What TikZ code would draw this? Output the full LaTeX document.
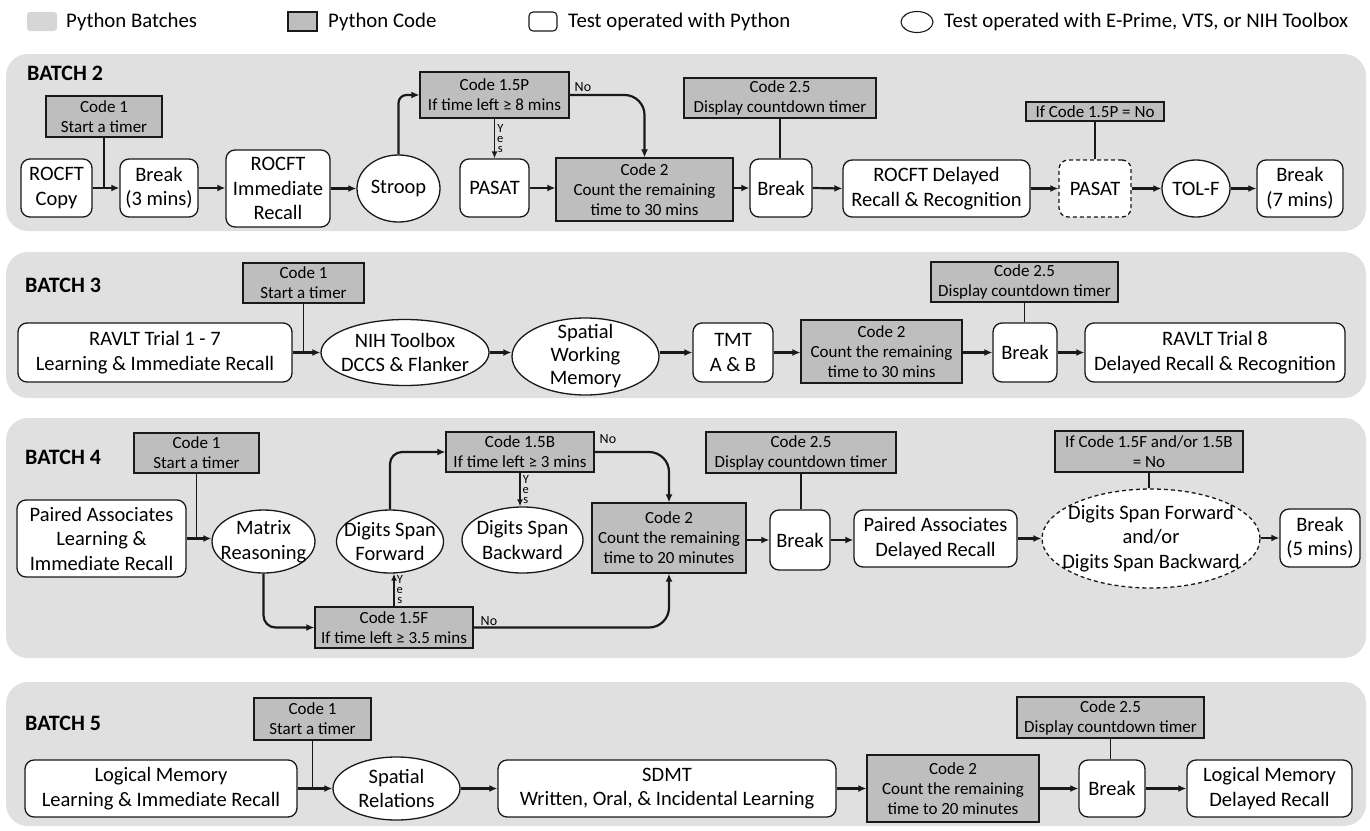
\documentclass[tikz,border=0pt]{standalone}
\usepackage{fontspec}
\setmainfont{Carlito}
\usetikzlibrary{arrows.meta,shapes.geometric}
\definecolor{panelgray}{RGB}{224,224,224}
\definecolor{leggray}{RGB}{214,214,214}
\definecolor{codegray}{RGB}{190,190,190}
\definecolor{ink}{RGB}{25,25,25}
\begin{document}
\begin{tikzpicture}[x=1pt,y=-1pt,
  panel/.style={fill=panelgray, rounded corners=22pt},
  test/.style={draw=ink, fill=white, rounded corners=9pt, line width=1.3pt, align=center, inner sep=1pt, font=\fontsize{20.5}{24.5}\selectfont},
  ell/.style={ellipse, draw=ink, fill=white, line width=1.3pt, align=center, inner sep=-12pt, font=\fontsize{20.5}{24.5}\selectfont},
  code/.style={draw=ink, fill=codegray, line width=1.2pt, align=center, inner sep=1pt, font=\fontsize{17}{20}\selectfont},
  flow/.style={draw=ink, line width=2.2pt, -{Latex[length=8pt,width=7pt]}},
  conn/.style={draw=ink, line width=1.4pt},
  connflow/.style={conn, -{Latex[length=7pt,width=6pt]}},
  lbl/.style={font=\fontsize{14}{14}\selectfont, inner sep=0pt},
  yes/.style={font=\fontsize{12.5}{10}\selectfont, align=center, inner sep=0pt},
  batch/.style={font=\bfseries\fontsize{22}{22}\selectfont, anchor=west, inner sep=0pt},
  legtext/.style={font=\fontsize{20.8}{21}\selectfont, anchor=west, inner sep=0pt},
  dashedbox/.style={dash pattern=on 4pt off 3pt}
]
\useasboundingbox (0,0) rectangle (1370,830);

% ---------- legend ----------
\fill[leggray, rounded corners=3pt] (27,12) rectangle (57,31);
\node[legtext] (l1) at (66,22) {Python Batches};
\filldraw[fill=codegray, draw=ink, line width=1.1pt] (288,12) rectangle (317,31);
\node[legtext] (l2) at (328,22) {Python Code};
\filldraw[fill=white, draw=ink, line width=1.1pt, rounded corners=4pt] (529,12) rectangle (557,31);
\node[legtext] (l3) at (568,22) {Test operated with Python};
\draw[ink, line width=1.1pt] (917,22) ellipse [x radius=16, y radius=10.5];
\node[legtext] (l4) at (944,22) {Test operated with E-Prime, VTS, or NIH Toolbox};

% ---------- panels ----------
\fill[panel] (6,54) rectangle (1366,231);
\fill[panel] (6,252) rectangle (1366,398);
\fill[panel] (6,418) rectangle (1366,658);
\fill[panel] (6,682) rectangle (1366,826);

% ================= BATCH 2 =================
\node[batch] (b2) at (27,73.5) {BATCH 2};
\node[code, minimum width=116pt, minimum height=41pt] (code1b2) at (104,116.5) {Code 1\\Start a timer};
\node[test, minimum width=71pt, minimum height=58pt] (copy) at (56.5,188) {ROCFT\\Copy};
\node[test, minimum width=78pt, minimum height=58pt] (brk1) at (159,188) {Break\\(3 mins)};
\node[test, minimum width=104pt, minimum height=77pt] (rir) at (278,188.5) {ROCFT\\Immediate\\Recall};
\node[ell, minimum width=83pt, minimum height=67pt] (stroop) at (398.5,188.5) {Stroop};
\node[code, minimum width=149pt, minimum height=46pt] (c15p) at (494.5,95) {Code 1.5P\\If time left ≥ 8 mins};
\node[test, minimum width=69pt, minimum height=58pt] (pasat) at (494.5,188) {PASAT};
\node[code, minimum width=177pt, minimum height=63pt] (code2b2) at (644.5,189.5) {Code 2\\Count the remaining\\time to 30 mins};
\node[test, minimum width=62pt, minimum height=58pt] (brk2) at (781,188) {Break};
\node[code, minimum width=192pt, minimum height=40pt] (c25b2) at (780,98) {Code 2.5\\Display countdown timer};
\node[test, minimum width=187pt, minimum height=57pt] (rdr) at (936.5,188.5) {ROCFT Delayed\\Recall \& Recognition};
\node[code, minimum width=138pt, minimum height=19pt] (ifp) at (1095,111.5) {If Code 1.5P = No};
\node[test, dashedbox, minimum width=72pt, minimum height=57pt] (pasat2) at (1095,188.5) {PASAT};
\node[ell, minimum width=68pt, minimum height=57pt] (tolf) at (1196,188.5) {TOL-F};
\node[test, minimum width=86pt, minimum height=57pt] (brk3) at (1300,188.5) {Break\\(7 mins)};

\draw[flow] (copy.east) -- (brk1.west);
\draw[conn] (code1b2.south) -- (code1b2.south |- copy.east);
\draw[flow] (brk1.east) -- (rir.west |- brk1.east);
\draw[flow] (rir.east) -- (stroop.west);
\draw[flow, rounded corners=8pt] (stroop.north) |- (c15p.west);
\draw[connflow] (c15p.south) -- (pasat.north) node[midway, right=2pt, yes] {Y\\e\\s};
\draw[flow, rounded corners=20pt] (c15p.east) -| (code2b2.north) node[at start, anchor=south west, lbl, xshift=4pt, yshift=2pt] {No};
\draw[flow] (pasat.east) -- (code2b2.west |- pasat.east);
\draw[flow] (code2b2.east |- brk2.west) -- (brk2.west);
\draw[conn] (c25b2.south) -- (c25b2.south |- brk2.north);
\draw[flow] (brk2.east) -- (rdr.west);
\draw[flow] (rdr.east) -- (pasat2.west);
\draw[conn] (ifp.south) -- (pasat2.north);
\draw[flow] (pasat2.east) -- (tolf.west);
\draw[flow] (tolf.east) -- (brk3.west);

% ================= BATCH 3 =================
\node[batch] (b3) at (25,285) {BATCH 3};
\node[code, minimum width=121pt, minimum height=40pt] (code1b3) at (303.5,283) {Code 1\\Start a timer};
\node[test, minimum width=274pt, minimum height=59pt] (ravlt) at (155,352.5) {RAVLT Trial 1 - 7\\Learning \& Immediate Recall};
\node[ell, minimum width=168pt, minimum height=66pt] (nih) at (405,352.5) {NIH Toolbox\\DCCS \& Flanker};
\node[ell, minimum width=147pt, minimum height=77pt, font=\fontsize{20.5}{23}\selectfont] (swm) at (585.5,356.5) {Spatial\\Working\\Memory};
\node[test, minimum width=80pt, minimum height=59pt] (tmt) at (733,352.5) {TMT\\A \& B};
\node[code, minimum width=161pt, minimum height=63pt] (code2b3) at (881.5,351.5) {Code 2\\Count the remaining\\time to 30 mins};
\node[test, minimum width=64pt, minimum height=59pt] (brkb3) at (1025,352.5) {Break};
\node[code, minimum width=187pt, minimum height=40pt] (c25b3) at (1024.5,282) {Code 2.5\\Display countdown timer};
\node[test, minimum width=260pt, minimum height=59pt] (ravlt8) at (1215,352.5) {RAVLT Trial 8\\Delayed Recall \& Recognition};

\draw[flow] (ravlt.east) -- (nih.west);
\draw[conn] (code1b3.south) -- (code1b3.south |- ravlt.east);
\draw[flow] (nih.east) -- (swm.west |- nih.east);
\draw[flow] (swm.east |- tmt.west) -- (tmt.west);
\draw[flow] (tmt.east) -- (code2b3.west |- tmt.east);
\draw[flow] (code2b3.east |- brkb3.west) -- (brkb3.west);
\draw[conn] (c25b3.south) -- (c25b3.south |- brkb3.north);
\draw[flow] (brkb3.east) -- (ravlt8.west);

% ================= BATCH 4 =================
\node[batch] (b4) at (25,457) {BATCH 4};
\node[code, minimum width=125pt, minimum height=40pt] (code1b4) at (196.5,453) {Code 1\\Start a timer};
\node[test, minimum width=169pt, minimum height=77pt] (pa) at (101.5,538.5) {Paired Associates\\Learning \&\\Immediate Recall};
\node[ell, minimum width=103pt, minimum height=63pt] (matrix) at (263.5,541.5) {Matrix\\Reasoning};
\node[ell, minimum width=107pt, minimum height=63pt] (dsf) at (390,541.5) {Digits Span\\Forward};
\node[ell, minimum width=121pt, minimum height=66pt] (dsb) at (522.5,540) {Digits Span\\Backward};
\node[code, minimum width=148pt, minimum height=40pt] (c15b) at (520,452) {Code 1.5B\\If time left ≥ 3 mins};
\node[code, minimum width=158pt, minimum height=41pt] (c15f) at (394,627.5) {Code 1.5F\\If time left ≥ 3.5 mins};
\node[code, minimum width=154pt, minimum height=70pt] (code2b4) at (669,538) {Code 2\\Count the remaining\\time to 20 minutes};
\node[test, minimum width=60pt, minimum height=60pt] (brkb4) at (800,540) {Break};
\node[code, minimum width=190pt, minimum height=41pt] (c25b4) at (801,452.5) {Code 2.5\\Display countdown timer};
\node[test, minimum width=163pt, minimum height=57pt] (pdr) at (935.5,538.5) {Paired Associates\\Delayed Recall};
\node[code, minimum width=188pt, minimum height=41pt] (ifb4) at (1149,451.5) {If Code 1.5F and/or 1.5B\\= No};
\node[ell, dashedbox, minimum width=218pt, minimum height=99pt] (de) at (1151,538.5) {Digits Span Forward\\and/or\\Digits Span Backward};
\node[test, minimum width=80pt, minimum height=58pt] (brk5) at (1320,538) {Break\\(5 mins)};

\draw[flow] (pa.east) -- (matrix.west |- pa.east);
\draw[conn] (code1b4.south) -- (code1b4.south |- pa.east);
\draw[flow, rounded corners=12pt] (matrix.south) |- (c15f.west);
\draw[connflow] (c15f.north) -- (c15f.north |- dsf.south) node[midway, right=2pt, yes] {Y\\e\\s};
\draw[flow, rounded corners=12pt] (dsf.north) |- (c15b.west);
\draw[connflow] (c15b.south) -- (c15b.south |- dsb.north) node[midway, right=2pt, yes] {Y\\e\\s};
\draw[flow, rounded corners=20pt] (c15b.east) -| (code2b4.north) node[at start, anchor=south west, lbl, xshift=4pt, yshift=7pt] {No};
\draw[flow, rounded corners=20pt] (c15f.east) -| (code2b4.south) node[at start, anchor=south west, lbl, xshift=6pt, yshift=1pt] {No};
\draw[flow] (code2b4.east |- brkb4.west) -- (brkb4.west);
\draw[conn] (c25b4.south) -- (c25b4.south |- brkb4.north);
\draw[flow] (brkb4.east) -- (pdr.west |- brkb4.east);
\draw[flow] (pdr.east) -- (de.west |- pdr.east);
\draw[conn] (ifb4.south) -- (ifb4.south |- de.north);
\draw[flow] (de.east |- brk5.west) -- (brk5.west);

% ================= BATCH 5 =================
\node[batch] (b5) at (25,723) {BATCH 5};
\node[code, minimum width=117pt, minimum height=42pt] (code1b5) at (312.5,719) {Code 1\\Start a timer};
\node[test, minimum width=272pt, minimum height=57pt] (lm) at (161,788.5) {Logical Memory\\Learning \& Immediate Recall};
\node[ell, minimum width=127pt, minimum height=63pt] (sr) at (396.5,788.5) {Spatial\\Relations};
\node[test, minimum width=338pt, minimum height=57pt] (sdmt) at (667,788.5) {SDMT\\Written, Oral, \& Incidental Learning};
\node[code, minimum width=172pt, minimum height=67pt] (code2b5) at (953,788.5) {Code 2\\Count the remaining\\time to 20 minutes};
\node[test, minimum width=66pt, minimum height=57pt] (brkb5) at (1112,788.5) {Break};
\node[code, minimum width=187pt, minimum height=41pt] (c25b5) at (1110.5,717.5) {Code 2.5\\Display countdown timer};
\node[test, minimum width=165pt, minimum height=57pt] (lmdr) at (1269.5,788.5) {Logical Memory\\Delayed Recall};

\draw[flow] (lm.east) -- (sr.west);
\draw[conn] (code1b5.south) -- (code1b5.south |- lm.east);
\draw[flow] (sr.east) -- (sdmt.west);
\draw[flow] (sdmt.east) -- (code2b5.west);
\draw[flow] (code2b5.east) -- (brkb5.west);
\draw[conn] (c25b5.south) -- (c25b5.south |- brkb5.north);
\draw[flow] (brkb5.east) -- (lmdr.west);
\end{tikzpicture}
\end{document}
